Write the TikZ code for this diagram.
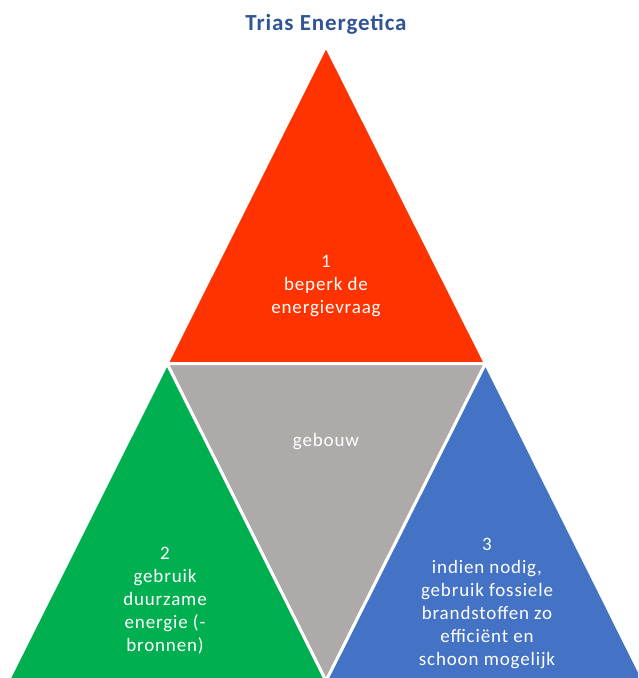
\documentclass[tikz,border=0pt]{standalone}
\usepackage{fontspec}
\setmainfont{Carlito}
\newfontfamily\bodyfont[LetterSpace=4.5]{Carlito}
\newfontfamily\titlefont[LetterSpace=4]{Carlito}
\definecolor{cred}{HTML}{FF3300}
\definecolor{cgray}{HTML}{AEAAAA}
\definecolor{cgreen}{HTML}{00B050}
\definecolor{cblue}{HTML}{4472C4}
\definecolor{ctitle}{HTML}{2F5597}
\tikzset{
  tri/.style={draw=white, line width=3pt, line join=miter},
  lbl/.style={text=white, align=center, font=\bodyfont\fontsize{19}{23}\selectfont, inner sep=0pt},
}
\begin{document}
\begin{tikzpicture}[x=1pt,y=-1pt]
\useasboundingbox (0,0) rectangle (638,678);
\clip (0,0) rectangle (638,678);
\coordinate (A) at (326,46);
\coordinate (B) at (167,363.5);
\coordinate (C) at (485.5,363.5);
\coordinate (D) at (326,681);
\coordinate (E) at (8,681);
\coordinate (F) at (644,681);
\fill[white] (0,0) rectangle (638,678);
\path[tri, fill=cred] (A) -- (B) -- (C) -- cycle;
\path[tri, fill=cgray] (B) -- (C) -- (D) -- cycle;
\path[tri, fill=cgreen] (B) -- (D) -- (E) -- cycle;
\path[tri, fill=cblue] (C) -- (F) -- (D) -- cycle;
\node[font=\titlefont\fontsize{23}{27}\selectfont\bfseries, text=ctitle, inner sep=0pt] (title) at (326,24) {Trias Energetica};
\node[lbl] (t1) at (326,286) {1\\beperk de\\energievraag};
\node[lbl] (t0) at (326,442) {gebouw};
\node[lbl] (t2) at (165,601) {2\\gebruik\\duurzame\\energie (-\\bronnen)};
\node[lbl] (t3) at (487,603) {3\\indien nodig,\\gebruik fossiele\\brandstoffen zo\\efficiënt en\\schoon mogelijk};
\end{tikzpicture}
\end{document}
